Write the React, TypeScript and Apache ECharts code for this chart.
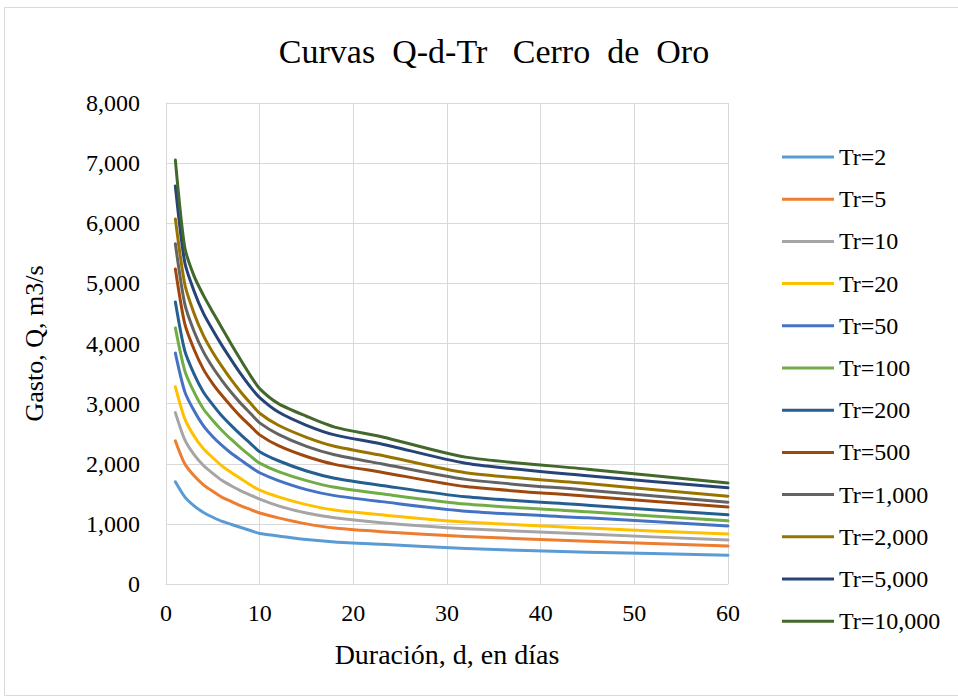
import React, { useEffect, useRef } from "react";
import * as echarts from "echarts";

const durations = [1, 2, 3, 4, 5, 6, 7, 8, 9, 10, 12, 15, 18, 23, 32, 45, 60];

const seriesNames = [
  "Tr=2", "Tr=5", "Tr=10", "Tr=20", "Tr=50", "Tr=100",
  "Tr=200", "Tr=500", "Tr=1,000", "Tr=2,000", "Tr=5,000", "Tr=10,000",
];

const tr2 = [1700, 1450, 1300, 1190, 1110, 1040, 990, 940, 890, 840, 800, 740, 700, 660, 590, 530, 480];
const tr5 = [2380, 2000, 1800, 1650, 1540, 1440, 1370, 1300, 1240, 1180, 1100, 1000, 930, 870, 790, 710, 630];
const tr10 = [2850, 2400, 2150, 1970, 1840, 1720, 1630, 1550, 1480, 1410, 1300, 1180, 1100, 1020, 920, 830, 730];
const tr20 = [3280, 2750, 2460, 2250, 2100, 1960, 1850, 1750, 1650, 1560, 1450, 1320, 1230, 1150, 1030, 930, 830];
const tr50 = [3840, 3200, 2880, 2630, 2450, 2300, 2170, 2060, 1950, 1850, 1720, 1570, 1470, 1370, 1210, 1100, 965];
const tr100 = [4260, 3550, 3190, 2910, 2720, 2550, 2400, 2260, 2130, 2010, 1870, 1720, 1610, 1500, 1330, 1200, 1050];
const tr200 = [4690, 3880, 3490, 3190, 2980, 2790, 2630, 2480, 2340, 2200, 2050, 1880, 1760, 1640, 1450, 1310, 1150];
const tr500 = [5240, 4330, 3900, 3570, 3330, 3130, 2950, 2780, 2630, 2480, 2300, 2120, 1990, 1860, 1620, 1460, 1280];
const tr1000 = [5660, 4660, 4200, 3860, 3600, 3380, 3180, 3000, 2840, 2680, 2490, 2290, 2150, 2000, 1740, 1560, 1360];
const tr2000 = [6070, 4990, 4500, 4130, 3850, 3610, 3390, 3190, 3010, 2840, 2640, 2440, 2290, 2140, 1850, 1670, 1460];
const tr5000 = [6620, 5350, 4870, 4500, 4220, 3960, 3720, 3490, 3280, 3100, 2860, 2640, 2480, 2330, 2010, 1800, 1600];
const tr10000 = [7050, 5600, 5120, 4800, 4520, 4250, 3980, 3720, 3470, 3250, 3000, 2790, 2610, 2450, 2110, 1910, 1680];

const seriesValues = [tr2, tr5, tr10, tr20, tr50, tr100, tr200, tr500, tr1000, tr2000, tr5000, tr10000];

const colors = [
  "#5B9BD5", "#ED7D31", "#A5A5A5", "#FFC000", "#4472C4", "#70AD47",
  "#255E91", "#9E480E", "#636363", "#997300", "#264478", "#43682B",
];

const FONT = "Liberation Serif";

export default function App() {
  const ref = useRef<HTMLDivElement>(null);

  useEffect(() => {
    if (!ref.current) return;
    const chart = echarts.init(ref.current, null, { renderer: "svg" });
    const fmt = (v: number) => v.toLocaleString("en-US");
    chart.setOption({
      animation: false,
      backgroundColor: "#ffffff",
      color: colors,
      textStyle: { fontFamily: FONT, color: "#000" },
      title: {
        text: "Curvas  Q-d-Tr   Cerro  de  Oro",
        left: 489,
        textAlign: "center",
        top: 29,
        textStyle: { fontFamily: FONT, fontSize: 34, fontWeight: "normal", color: "#000" },
      },
      graphic: [
        {
          type: "rect",
          shape: { x: 4.5, y: 7.5, width: 1000, height: 688 },
          style: { fill: "none", stroke: "#d9d9d9", lineWidth: 1 },
          silent: true,
        },
      ],
      grid: { left: 166, right: 230, top: 103, bottom: 116, containLabel: false },
      legend: {
        orient: "vertical",
        left: 782,
        top: 145,
        padding: 0,
        icon: "rect",
        itemWidth: 52,
        itemHeight: 3,
        itemGap: 18.2,
        data: seriesNames,
        textStyle: { fontFamily: FONT, fontSize: 24, color: "#000", lineHeight: 24, padding: [0, 0, 0, 0] },
      },
      xAxis: {
        type: "value",
        min: 0,
        max: 60,
        interval: 10,
        name: "Duración, d, en días",
        nameLocation: "middle",
        nameGap: 56,
        nameTextStyle: { fontFamily: FONT, fontSize: 28, color: "#000" },
        axisLine: { show: true, lineStyle: { color: "#d9d9d9", width: 1 } },
        axisTick: { show: false },
        axisLabel: { fontFamily: FONT, fontSize: 24, color: "#000", margin: 17 },
        splitLine: { show: true, lineStyle: { color: "#d9d9d9", width: 1 } },
      },
      yAxis: {
        type: "value",
        min: 0,
        max: 8000,
        interval: 1000,
        name: "Gasto, Q, m3/s",
        nameLocation: "middle",
        nameGap: 119,
        nameTextStyle: { fontFamily: FONT, fontSize: 26, color: "#000" },
        axisLine: { show: true, lineStyle: { color: "#d9d9d9", width: 1 } },
        axisTick: { show: false },
        axisLabel: { fontFamily: FONT, fontSize: 24, color: "#000", margin: 26, formatter: fmt },
        splitLine: { show: true, lineStyle: { color: "#d9d9d9", width: 1 } },
      },
      series: seriesNames.map((name, i) => ({
        name,
        type: "line",
        data: durations.map((d, j) => [d, seriesValues[i][j]]),
        showSymbol: false,
        symbol: "none",
        smooth: 0.25,
        lineStyle: { width: 3, color: colors[i], cap: "round", join: "round" },
        itemStyle: { color: colors[i] },
      })),
    });
    return () => chart.dispose();
  }, []);

  return (
    <div
      ref={ref}
      style={{ position: "fixed", left: 0, top: 0, width: 958, height: 700, background: "#fff" }}
    />
  );
}
